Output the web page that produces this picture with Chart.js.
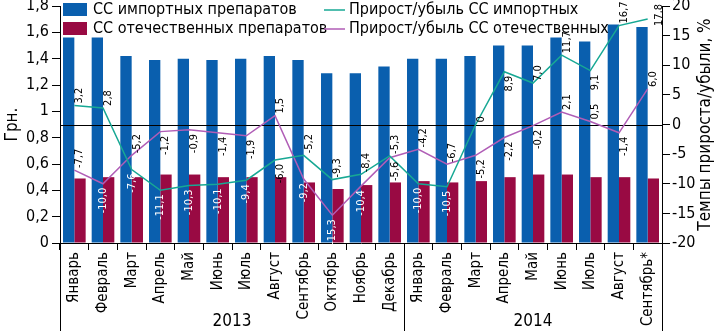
<!DOCTYPE html>
<html>
<head>
<meta charset="utf-8">
<script src="https://cdn.jsdelivr.net/npm/chart.js@4.4.1/dist/chart.umd.min.js"></script>
<style>
  html, body { margin: 0; padding: 0; background: #fff; }
  #wrap { width: 720px; height: 331px; }
</style>
</head>
<body>
<div id="wrap"><canvas id="chart"></canvas></div>
<script>
const months = ['Январь','Февраль','Март','Апрель','Май','Июнь','Июль','Август','Сентябрь','Октябрь','Ноябрь','Декабрь',
                'Январь','Февраль','Март','Апрель','Май','Июнь','Июль','Август','Сентябрь*'];
const years = ['2013', '2014'];
const monthsPerYear = [12, 9];

// средняя стоимость упаковки, грн.
const importPrice   = [1.56,1.56,1.42,1.39,1.40,1.39,1.40,1.42,1.39,1.29,1.29,1.34, 1.40,1.40,1.42,1.50,1.50,1.56,1.53,1.66,1.64];
const domesticPrice = [0.49,0.50,0.50,0.52,0.52,0.50,0.50,0.50,0.46,0.41,0.44,0.46, 0.47,0.46,0.47,0.50,0.52,0.52,0.50,0.50,0.49];

// прирост/убыль, %
const importGrowth   = [3.2,2.8,-7.6,-11.1,-10.3,-10.1,-9.4,-6.0,-5.2,-9.3,-8.4,-5.3, -10.0,-10.5,0,8.9,7.0,11.7,9.1,16.7,17.8];
const domesticGrowth = [-7.7,-10.0,-5.2,-1.2,-0.9,-1.4,-1.9,1.5,-9.2,-15.3,-10.4,-5.6, -4.2,-6.7,-5.2,-2.2,-0.2,2.1,0.5,-1.4,6.0];

const FONT = "'Liberation Sans Narrow', 'DejaVu Sans Condensed', 'Roboto', sans-serif";
const BLUE = '#0a5fae', CRIMSON = '#990a43', TEAL = '#17a894', PURPLE = '#b05db6';

const comma = v => String(Math.round(v * 10) / 10).replace('.', ',');
const pct = v => v === 0 ? '0' : v.toFixed(1).replace('.', ',');

function noPad(s) { s.paddingTop = 0; s.paddingBottom = 0; s.paddingLeft = 0; s.paddingRight = 0; }

// где ставить подпись: над точкой (u), под ней (d), справа (r)
const importSide   = 'uudddddduuuudduduudur'.split('');
const domesticSide = 'ududdddudddduuddduudu'.split('');

const decor = {
  id: 'decor',
  beforeDatasetsDraw(chart) { chart.$zero = false; },
  beforeDatasetDraw(chart, args) {
    if (chart.data.datasets[args.index].type !== 'line' || chart.$zero) return;
    chart.$zero = true;
    const a = chart.chartArea, y = chart.scales.y2.getPixelForValue(0);
    const ctx = chart.ctx;
    ctx.save();
    ctx.strokeStyle = '#000'; ctx.lineWidth = 1;
    ctx.beginPath(); ctx.moveTo(a.left, Math.round(y) + 0.5); ctx.lineTo(a.right, Math.round(y) + 0.5); ctx.stroke();
    ctx.restore();
  },
  afterDatasetsDraw(chart) {
    const ctx = chart.ctx;
    const crimson = chart.getDatasetMeta(1).data;
    ctx.save();
    ctx.font = '11px ' + FONT;
    ctx.textBaseline = 'middle';
    [2, 3].forEach(i => {
      const ds = chart.data.datasets[i];
      chart.getDatasetMeta(i).data.forEach((pt, j) => {
        const txt = pct(ds.data[j]);
        const w = ctx.measureText(txt).width;
        const side = ds.labelSide[j];
        let cx, cy, white = false;
        if (side === 'r') {
          cx = pt.x + 11; cy = pt.y - 4;
        } else if (side === 'u') {
          cy = pt.y - 2 - w / 2; cx = pt.x + 5;
        } else {
          cy = pt.y + 4 + w / 2;
          white = cy > crimson[j].y;
          cx = pt.x + (white ? 0 : 5);
        }
        ctx.fillStyle = white ? '#fff' : '#000';
        ctx.save();
        ctx.translate(cx, cy);
        ctx.rotate(-Math.PI / 2);
        ctx.textAlign = 'center';
        ctx.fillText(txt, 0, 0);
        ctx.restore();
      });
    });
    ctx.restore();
  },
  afterDraw(chart) {
    const ctx = chart.ctx, a = chart.chartArea, H = chart.height;
    ctx.save();
    // разделители и годы
    ctx.strokeStyle = '#000'; ctx.lineWidth = 1;
    const step = (a.right - a.left) / months.length;
    let start = 0;
    const bounds = [0];
    monthsPerYear.forEach(n => { start += n; bounds.push(start); });
    bounds.forEach(b => {
      const px = Math.round(a.left + b * step) + 0.5;
      ctx.beginPath(); ctx.moveTo(px, a.bottom); ctx.lineTo(px, H); ctx.stroke();
    });
    ctx.fillStyle = '#000';
    ctx.font = '17px ' + FONT;
    ctx.textAlign = 'center'; ctx.textBaseline = 'middle';
    years.forEach((yr, k) => {
      const cx = a.left + (bounds[k] + bounds[k + 1]) / 2 * step;
      ctx.fillText(yr, cx, H - 9);
    });
    // заголовок правой оси
    ctx.save();
    ctx.translate(706, (a.top + a.bottom) / 2);
    ctx.rotate(-Math.PI / 2);
    ctx.fillText('Темпы прироста/убыли, %', 0, 0);
    ctx.restore();
    // легенда
    ctx.font = '16px ' + FONT;
    ctx.textAlign = 'left';
    const ds = chart.data.datasets;
    ctx.fillStyle = ds[0].backgroundColor; ctx.fillRect(63, 3, 24, 13);
    ctx.fillStyle = ds[1].backgroundColor; ctx.fillRect(63, 22, 24, 13);
    ctx.fillStyle = '#000';
    ctx.fillText(ds[0].label, 93, 10);
    ctx.fillText(ds[1].label, 93, 29);
    ctx.lineWidth = 1.5;
    ctx.strokeStyle = ds[2].borderColor;
    ctx.beginPath(); ctx.moveTo(324, 10); ctx.lineTo(345, 10); ctx.stroke();
    ctx.strokeStyle = ds[3].borderColor;
    ctx.beginPath(); ctx.moveTo(324, 29); ctx.lineTo(345, 29); ctx.stroke();
    ctx.fillText(ds[2].label, 349, 10);
    ctx.fillText(ds[3].label, 349, 29);
    ctx.restore();
  }
};

new Chart(document.getElementById('chart'), {
  data: {
    labels: months,
    datasets: [
      { type: 'bar', label: 'СС импортных препаратов', data: importPrice, backgroundColor: BLUE,
        yAxisID: 'y', order: 2, categoryPercentage: 0.79, barPercentage: 1.0 },
      { type: 'bar', label: 'СС отечественных препаратов', data: domesticPrice, backgroundColor: CRIMSON,
        yAxisID: 'y', order: 2, categoryPercentage: 0.79, barPercentage: 1.0 },
      { type: 'line', label: 'Прирост/убыль СС импортных', data: importGrowth, borderColor: TEAL,
        borderWidth: 1.5, pointRadius: 0, tension: 0, yAxisID: 'y2', order: 1, labelSide: importSide },
      { type: 'line', label: 'Прирост/убыль СС отечественных', data: domesticGrowth, borderColor: PURPLE,
        borderWidth: 1.5, pointRadius: 0, tension: 0, yAxisID: 'y2', order: 1, labelSide: domesticSide }
    ]
  },
  options: {
    responsive: true,
    maintainAspectRatio: false,
    animation: false,
    layout: { padding: { top: 6, left: 0, right: 0, bottom: 0 } },
    plugins: { legend: { display: false }, tooltip: { enabled: false } },
    scales: {
      x: {
        offset: true,
        grid: { offset: true, drawOnChartArea: false, tickLength: 7, color: '#000', tickColor: '#000' },
        border: { color: '#000' },
        ticks: { autoSkip: false, maxRotation: 90, minRotation: 90, padding: 2, color: '#000',
                 font: { family: FONT, size: 15 } },
        afterFit: s => { s.height = 88; noPad(s); }
      },
      y: {
        position: 'left', min: 0, max: 1.8,
        ticks: { stepSize: 0.2, callback: v => comma(v), color: '#000', padding: 3,
                 font: { family: FONT, size: 16 } },
        grid: { drawOnChartArea: false, tickLength: 8, color: '#000', tickColor: '#000' },
        border: { color: '#000' },
        title: { display: true, text: 'Грн.', color: '#000', padding: { top: 2, bottom: 0 }, font: { family: FONT, size: 17 } },
        afterFit: s => { s.width = 60; noPad(s); }
      },
      y2: {
        position: 'right', min: -20, max: 20,
        ticks: { stepSize: 5, color: '#000', padding: 2, font: { family: FONT, size: 16 } },
        grid: { drawOnChartArea: false, tickLength: 8, color: '#000', tickColor: '#000' },
        border: { color: '#000' },
        afterFit: s => { s.width = 58; noPad(s); }
      }
    }
  },
  plugins: [decor]
});
</script>
</body>
</html>
